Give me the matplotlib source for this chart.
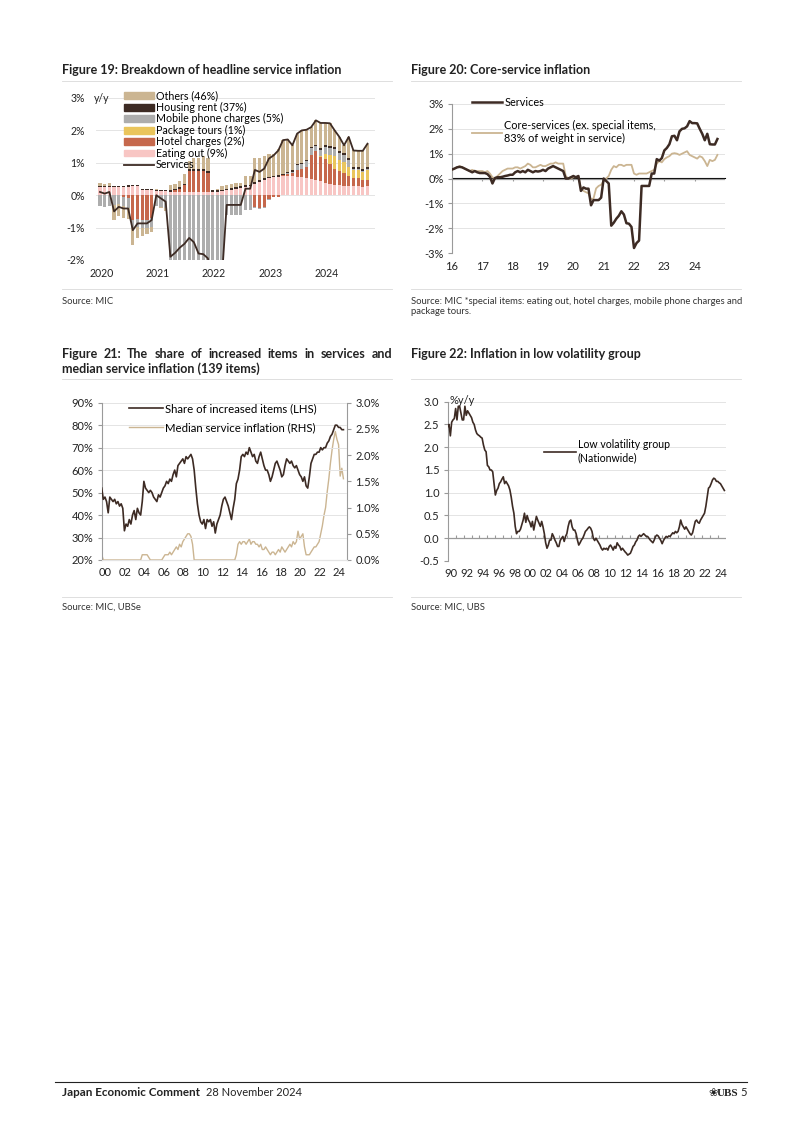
import numpy as np
import matplotlib
matplotlib.use("Agg")
import matplotlib.pyplot as plt
from matplotlib.lines import Line2D
from matplotlib.patches import Patch

plt.rcParams['font.family'] = ['Lato', 'DejaVu Sans']
plt.rcParams['axes.unicode_minus'] = False

W, H = 802, 1134
DARK = '#3D2B24'
TAN = '#CBB592'
PINK = '#F8C6C4'
RED = '#C6684C'
YELLOW = '#EAC55C'
GRAY = '#ADADAD'
GRID = '#E4E4E4'
AXIS = '#9A9A9A'
TEXT = '#222222'

# ---------------- Figure 19: contributions, Jan 2020 - Oct 2024 (pp) ----------------
f19_years = ['2020', '2021', '2022', '2023', '2024']
f19_services = [0.10, 0.05, 0.10, -0.50, -0.36, -0.41, -0.41, -1.08, -0.87, -0.87, -0.87, -0.77,
                0.00, -0.10, -0.20, -1.90, -1.78, -1.62, -1.50, -1.32, -1.45, -1.80, -1.82, -1.95,
                -2.80, -2.60, -2.50, -0.30, -0.30, -0.30, -0.30, 0.20, 0.20, 0.78, 0.72, 0.82,
                1.13, 1.23, 1.38, 1.70, 1.72, 1.54, 1.90, 2.00, 2.02, 2.10, 2.31, 2.23,
                2.23, 2.22, 2.00, 1.80, 1.54, 1.80, 1.38, 1.37, 1.37, 1.59]
f19_eating = [0.24, 0.24, 0.24, 0.24, 0.24, 0.24, 0.26, 0.27, 0.27, 0.15, 0.15, 0.15,
              0.12, 0.12, 0.12, 0.10, 0.10, 0.10, 0.10, 0.10, 0.10, 0.10, 0.10, 0.10,
              0.10, 0.10, 0.12, 0.15, 0.17, 0.20, 0.22, 0.25, 0.28, 0.35, 0.42, 0.48,
              0.52, 0.55, 0.56, 0.58, 0.58, 0.58, 0.57, 0.55, 0.52, 0.50, 0.46, 0.43,
              0.38, 0.35, 0.32, 0.30, 0.28, 0.28, 0.27, 0.27, 0.26, 0.27]
f19_hotel = [0, 0, 0, 0, 0, -0.05, -0.10, -0.75, -0.72, -0.75, -0.75, -0.70,
             0, 0, 0, 0, 0.05, 0.10, 0.20, 0.65, 0.65, 0.65, 0.65, 0.60,
             0, 0, 0, 0, 0, 0, 0, 0, 0, -0.35, -0.40, -0.35,
             -0.12, -0.05, -0.05, 0.03, 0.08, 0.12, 0.20, 0.25, 0.35, 0.75, 0.90, 0.75,
             0.75, 0.60, 0.50, 0.45, 0.40, 0.30, 0.25, 0.25, 0.20, 0.20]
f19_package = [0] * 47 + [0.03,
               0.15, 0.30, 0.40, 0.35, 0.35, 0.30, 0.25, 0.25, 0.25, 0.30]
f19_mobile = [-0.33, -0.35, -0.33, -0.30, -0.28, -0.28, -0.28, -0.25, -0.25, -0.25, -0.25, -0.28,
              -0.33, -0.35, -0.38, -2.20, -2.13, -2.07, -2.15, -2.32, -2.55, -2.90, -2.97, -3.05,
              -2.95, -2.80, -2.75, -0.60, -0.60, -0.62, -0.62, -0.45, -0.45, -0.03, -0.03, -0.03,
              -0.02, 0, 0, 0, 0.02, 0.02, 0.15, 0.15, 0.18, 0.20, 0.15, 0.20,
              0.20, 0.20, 0.20, 0.20, 0.20, 0.20, 0.05, 0.05, 0.05, 0.05]
f19_rent = [0.05] * 48 + [0.06] * 10
f19_others = [0.10, 0.05, 0.08, -0.45, -0.35, -0.38, -0.35, -0.55, -0.35, -0.25, -0.20, -0.15,
              0.02, -0.05, -0.10, 0.15, 0.15, 0.20, 0.30, 0.25, 0.35, 0.35, 0.40, 0.40,
              0.00, 0.05, 0.10, 0.10, 0.12, 0.12, 0.10, 0.30, 0.27, 0.76, 0.68, 0.67,
              0.70, 0.68, 0.82, 1.04, 0.99, 0.77, 0.93, 1.00, 0.92, 0.60, 0.75, 0.77,
              0.69, 0.71, 0.52, 0.44, 0.25, 0.66, 0.50, 0.49, 0.55, 0.71]

# ---------------- Figure 20: monthly from Jan 2016 ----------------
f20_years = ['16', '17', '18', '19', '20', '21', '22', '23', '24']
f20_services_2016_19 = [0.36, 0.40, 0.45, 0.47, 0.45, 0.40, 0.35, 0.30, 0.25, 0.30, 0.25, 0.22,
                        0.22, 0.22, 0.18, 0.07, -0.20, 0.02, 0.05, 0.05, 0.07, 0.10, 0.12, 0.15,
                        0.15, 0.25, 0.30, 0.25, 0.30, 0.25, 0.35, 0.30, 0.25, 0.30, 0.28, 0.30,
                        0.35, 0.30, 0.40, 0.45, 0.50, 0.45, 0.40, 0.35, 0.30, 0.00, 0.00, 0.05]
f20_services = f20_services_2016_19 + f19_services
f20_core = [0.35, 0.40, 0.45, 0.50, 0.45, 0.40, 0.35, 0.30, 0.35, 0.30, 0.30, 0.30,
            0.30, 0.25, 0.30, 0.20, 0.05, 0.00, 0.10, 0.20, 0.30, 0.35, 0.40, 0.40,
            0.40, 0.45, 0.45, 0.40, 0.45, 0.50, 0.60, 0.55, 0.45, 0.45, 0.50, 0.55,
            0.50, 0.50, 0.55, 0.60, 0.60, 0.65, 0.60, 0.60, 0.60, 0.10, 0.00, 0.00,
            0.05, 0.05, 0.10, -0.40, -0.50, -0.55, -0.60, -0.85, -0.80, -0.40, -0.30, -0.25,
            -0.10, 0.00, 0.10, 0.35, 0.50, 0.45, 0.55, 0.55, 0.50, 0.55, 0.55, 0.55,
            0.20, 0.15, 0.20, 0.20, 0.20, 0.20, 0.25, 0.30, 0.35, 0.60, 0.70, 0.65,
            0.78, 0.85, 0.90, 1.00, 1.02, 1.00, 0.95, 1.00, 1.05, 1.10, 0.95, 0.90,
            0.85, 0.80, 0.90, 0.85, 0.70, 0.50, 0.75, 0.70, 0.75, 0.95]

# ---------------- Figure 21: bi-monthly from Jan 2000 ----------------
f21_share = [52, 47, 48, 46, 41, 48, 47, 46, 47, 45, 46, 44,
             45, 43, 33, 36, 35, 38, 36, 40, 42, 38, 43, 41,
             40, 46, 55, 52, 51, 50, 51, 50, 48, 47, 46, 49,
             48, 50, 52, 53, 55, 54, 56, 55, 58, 60, 57, 62,
             63, 64, 65, 63, 66, 65, 66, 67, 65, 60, 52, 45,
             40, 37, 36, 38, 34, 38, 37, 38, 35, 37, 32, 36,
             38, 40, 44, 47, 48, 46, 44, 41, 38, 43, 47, 54,
             56, 60, 66, 67, 66, 68, 67, 70, 68, 66, 67, 64,
             63, 66, 68, 65, 62, 60, 60, 58, 55, 57, 60, 63,
             64, 62, 60, 57, 58, 62, 65, 64, 63, 64, 62, 61,
             62, 60, 58, 57, 55, 57, 53, 52, 57, 63, 65, 67,
             67, 68, 68, 70, 69, 70, 70, 72, 73, 75, 76, 78,
             80, 80, 79, 79, 78, 78]
f21_median = [0.10, 0, 0, 0, 0, 0, 0, 0, 0, 0, 0, 0,
              0, 0, 0, 0, 0, 0, 0, 0, 0, 0, 0, 0,
              0, 0.10, 0.10, 0.10, 0.10, 0.05, 0, 0, 0, 0, 0, 0,
              0, 0, 0.05, 0.10, 0.10, 0.10, 0.15, 0.10, 0.15, 0.20, 0.25, 0.20,
              0.30, 0.25, 0.35, 0.40, 0.45, 0.50, 0.50, 0.45, 0.30, 0, 0, 0,
              0, 0, 0, 0, 0, 0, 0, 0, 0, 0, 0, 0,
              0, 0, 0, 0, 0, 0, 0, 0, 0, 0, 0, 0.10,
              0.30, 0.35, 0.30, 0.35, 0.35, 0.30, 0.35, 0.40, 0.30, 0.35, 0.35, 0.30,
              0.30, 0.25, 0.30, 0.20, 0.20, 0.25, 0.20, 0.15, 0.10, 0.15, 0.15, 0.10,
              0.15, 0.20, 0.15, 0.25, 0.20, 0.15, 0.20, 0.25, 0.30, 0.25, 0.35, 0.30,
              0.35, 0.55, 0.40, 0.45, 0.50, 0.25, 0.10, 0.10, 0.10, 0.15, 0.20, 0.25,
              0.25, 0.30, 0.35, 0.50, 0.65, 0.85, 1.00, 1.30, 1.55, 1.85, 2.10, 2.30,
              2.45, 2.30, 2.20, 1.60, 1.75, 1.55]
f21_labels = ['00', '02', '04', '06', '08', '10', '12', '14', '16', '18', '20', '22', '24']

# ---------------- Figure 22: bi-monthly from Jan 1990 ----------------
f22_lowvol = [2.45, 2.50, 2.25, 2.55, 2.60, 2.63, 2.85, 2.60, 2.90, 2.90, 2.75, 2.60,
              2.60, 2.90, 2.70, 2.80, 2.75, 2.70, 2.65, 2.55, 2.50, 2.38, 2.30, 2.27,
              2.25, 2.22, 2.20, 2.05, 1.94, 1.90, 1.60, 1.57, 1.50, 1.50, 1.46, 1.20,
              0.95, 1.05, 1.10, 1.20, 1.24, 1.30, 1.35, 1.20, 1.25, 1.20, 1.15, 1.06,
              0.90, 0.70, 0.55, 0.26, 0.10, 0.15, 0.15, 0.20, 0.30, 0.40, 0.55, 0.35,
              0.50, 0.40, 0.35, 0.25, 0.37, 0.18, 0.33, 0.48, 0.40, 0.33, 0.26, 0.37,
              0.25, 0.10, -0.10, -0.22, -0.15, -0.04, -0.04, 0.10, 0.04, -0.04, -0.10, -0.18,
              -0.18, -0.05, 0.00, 0.04, -0.07, 0.04, 0.10, 0.26, 0.37, 0.40, 0.25, 0.18,
              0.18, 0.10, -0.04, -0.15, -0.10, -0.04, 0.00, 0.07, 0.15, 0.18, 0.22, 0.25,
              0.22, 0.15, 0.00, -0.05, 0.00, -0.05, -0.10, -0.15, -0.22, -0.26, -0.22, -0.24,
              -0.22, -0.26, -0.18, -0.15, -0.20, -0.26, -0.18, -0.22, -0.10, -0.15, -0.18, -0.26,
              -0.22, -0.26, -0.30, -0.33, -0.37, -0.35, -0.33, -0.26, -0.18, -0.15, -0.08, -0.04,
              0.04, 0.07, 0.04, 0.07, 0.10, 0.07, 0.04, 0.04, 0.00, -0.04, -0.07, -0.10,
              -0.04, 0.04, 0.07, 0.05, 0.00, -0.05, -0.12, -0.05, 0.00, 0.04, 0.02, 0.05,
              0.04, 0.08, 0.12, 0.10, 0.15, 0.12, 0.15, 0.25, 0.40, 0.30, 0.25, 0.20,
              0.25, 0.20, 0.15, 0.10, 0.07, 0.12, 0.25, 0.37, 0.40, 0.35, 0.33, 0.40,
              0.45, 0.50, 0.55, 0.70, 0.90, 1.10, 1.13, 1.20, 1.28, 1.32, 1.30, 1.25,
              1.25, 1.22, 1.20, 1.15, 1.10, 1.05]
f22_labels = ['90', '92', '94', '96', '98', '00', '02', '04', '06', '08', '10', '12',
              '14', '16', '18', '20', '22', '24']

fig = plt.figure(figsize=(W / 100, H / 100), dpi=100)


def box(x0, y0, x1, y1):
    # axes from page pixel corners (top-left origin)
    return fig.add_axes([x0 / W, 1 - y1 / H, (x1 - x0) / W, (y1 - y0) / H])


def ftext(x, y, s, **kw):
    kw.setdefault('color', TEXT)
    return fig.text(x / W, 1 - y / H, s, **kw)


def rule(x0, x1, y, color='#D9D9D9', lw=0.6):
    fig.add_artist(Line2D([x0 / W, x1 / W], [1 - y / H] * 2, color=color, lw=lw))


def zero_ticks(ax, frac, ticks):
    # small year ticks sitting on the zero line
    sec = ax.secondary_xaxis(frac)
    sec.set_xticks(ticks)
    sec.set_xticklabels([''] * len(ticks))
    sec.tick_params(length=2.5, direction='in', color=AXIS)
    sec.spines['bottom'].set_visible(False)


TITLE = dict(fontsize=9, fontweight='bold', va='center')
SRC = dict(fontsize=6.8, va='center', color='#333333')

# ---------------- Figure 19 ----------------
ftext(62, 70, 'Figure 19: Breakdown of headline service inflation', **TITLE)
rule(62, 392, 81)
ax = box(96, 98, 375, 260)
months = np.arange(len(f19_services))
pos = np.zeros(len(months))
neg = np.zeros(len(months))
series = [(f19_eating, PINK), (f19_hotel, RED), (f19_package, YELLOW),
          (f19_mobile, GRAY), (f19_rent, DARK), (f19_others, TAN)]
for vals, col in series:
    v = np.asarray(vals, dtype=float)
    ax.bar(months, v, bottom=np.where(v >= 0, pos, neg), width=0.68, color=col, lw=0, zorder=2)
    pos += np.clip(v, 0, None)
    neg += np.clip(v, None, 0)
ax.plot(months, f19_services, color=DARK, lw=1.3, zorder=3)
ax.set_xlim(-0.85, 58.6)
ax.set_ylim(-2, 3)
ax.set_yticks(range(-2, 4))
ax.set_yticklabels([f'{v}%' for v in range(-2, 4)])
ax.set_xticks([0.3, 12.3, 24.3, 36.3, 48.3])
ax.set_xticklabels(f19_years)
ax.grid(axis='y', color=GRID, lw=0.7, zorder=0)
ax.set_axisbelow(True)
for s in ax.spines.values():
    s.set_visible(False)
ax.tick_params(length=0, labelsize=7.6, colors=TEXT)
ax.tick_params(axis='y', pad=8)
ax.tick_params(axis='x', pad=6)
ftext(94, 98, 'y/y', fontsize=7.6, va='center')
handles = [Patch(color=TAN), Patch(color=DARK), Patch(color=GRAY), Patch(color=YELLOW),
           Patch(color=RED), Patch(color=PINK), Line2D([], [], color=DARK, lw=1.3)]
labels = ['Others (46%)', 'Housing rent (37%)', 'Mobile phone charges (5%)', 'Package tours (1%)',
          'Hotel charges (2%)', 'Eating out (9%)', 'Services']
ax.legend(handles, labels, loc='upper left', bbox_to_anchor=(124 / W, 1 - 90.5 / H),
          bbox_transform=fig.transFigure, frameon=False, fontsize=7.7, borderpad=0,
          borderaxespad=0, handlelength=2.8, handleheight=0.6, handletextpad=0.15,
          labelspacing=0.04)
rule(62, 392, 289)
ftext(62, 301, 'Source: MIC', **SRC)

# ---------------- Figure 20 ----------------
ftext(411, 70, 'Figure 20: Core-service inflation', **TITLE)
rule(411, 741, 81)
ax = box(452, 104, 725, 253)
t20 = 2016 + np.arange(len(f20_core)) / 12
ax.plot(t20, f20_core, color=TAN, lw=1.3, zorder=3)
ax.plot(t20, f20_services, color=DARK, lw=1.8, zorder=4)
ax.set_xlim(2016, 2025)
ax.set_ylim(-3, 3)
ax.set_yticks(range(-3, 4))
ax.set_yticklabels([f'{v}%' for v in range(-3, 4)])
ax.set_xticks(range(2016, 2025))
ax.set_xticklabels(f20_years)
ax.grid(axis='y', color=GRID, lw=0.7, zorder=0)
ax.axhline(0, color=AXIS, lw=0.9, zorder=2)
for k in ['top', 'right', 'bottom']:
    ax.spines[k].set_visible(False)
ax.spines['left'].set_color(AXIS)
ax.spines['left'].set_linewidth(0.8)
ax.tick_params(axis='y', length=3, color=AXIS, labelsize=8, labelcolor=TEXT, pad=3)
ax.tick_params(axis='x', length=0, labelsize=8, labelcolor=TEXT, pad=6)
zero_ticks(ax, 0.5, list(range(2017, 2025)))
ax.legend([Line2D([], [], color=DARK, lw=1.8), Line2D([], [], color=TAN, lw=1.3)],
          ['Services', 'Core-services (ex. special items,\n83% of weight in service)'],
          loc='upper left', bbox_to_anchor=(472 / W, 1 - 97 / H), bbox_transform=fig.transFigure,
          frameon=False, fontsize=7.8, borderpad=0, borderaxespad=0, handlelength=2.8,
          handletextpad=0.2, labelspacing=1.1)
rule(411, 741, 289)
ftext(411, 301, 'Source: MIC *special items: eating out, hotel charges, mobile phone charges and', **SRC)
ftext(411, 312, 'package tours.', **SRC)

# ---------------- Figure 21 ----------------
words = 'Figure 21: The share of increased items in services and'.split()
wt = [fig.text(0, 1 - 354 / H, w, color=TEXT, **TITLE) for w in words]
fig.canvas.draw()
rend = fig.canvas.get_renderer()
widths = [t.get_window_extent(rend).width for t in wt]
gap = (392 - 62 - sum(widths)) / (len(words) - 1)
xx = 62
for t, w in zip(wt, widths):
    t.set_x(xx / W)
    xx += w + gap
ftext(62, 369, 'median service inflation (139 items)', **TITLE)
rule(62, 392, 379)
ax = box(101.7, 402.7, 347, 560)
t21 = 2000 + np.arange(len(f21_share)) / 6
ax2 = ax.twinx()
ax2.plot(t21, f21_median, color=TAN, lw=1.0, zorder=3)
ax.plot(t21, f21_share, color=DARK, lw=1.2, zorder=4)
ax.set_zorder(ax2.get_zorder() + 1)
ax.patch.set_visible(False)
ax.set_xlim(2000, 2025.2)
ax.set_ylim(20, 90)
ax2.set_ylim(0, 3.0)
ax.set_yticks(range(20, 91, 10))
ax.set_yticklabels([f'{v}%' for v in range(20, 91, 10)])
ax2.set_yticks(np.arange(0, 3.01, 0.5))
ax2.set_yticklabels([f'{v:.1f}%' for v in np.arange(0, 3.01, 0.5)])
ax.set_xticks([2000.4 + 2 * k for k in range(len(f21_labels))])
ax.set_xticklabels(f21_labels)
ax.grid(axis='y', color=GRID, lw=0.7, zorder=0)
for a in (ax, ax2):
    a.spines['top'].set_visible(False)
    a.spines['bottom'].set_color(GRID)
    a.spines['left'].set_color(AXIS)
    a.spines['right'].set_color(AXIS)
    a.spines['left'].set_linewidth(0.8)
    a.spines['right'].set_linewidth(0.8)
ax.spines['right'].set_visible(False)
ax2.spines['left'].set_visible(False)
ax.tick_params(axis='y', length=3, color=AXIS, labelsize=8, labelcolor=TEXT, pad=3)
ax2.tick_params(axis='y', length=3, color=AXIS, labelsize=8, labelcolor=TEXT, pad=3)
ax.tick_params(axis='x', length=0, labelsize=8, labelcolor=TEXT, pad=5)
ax.legend([Line2D([], [], color=DARK, lw=1.2), Line2D([], [], color=TAN, lw=1.0)],
          ['Share of increased items (LHS)', 'Median service inflation (RHS)'],
          loc='upper left', bbox_to_anchor=(129 / W, 1 - 403 / H), bbox_transform=fig.transFigure,
          frameon=False, fontsize=8.2, borderpad=0, borderaxespad=0, handlelength=3.0,
          handletextpad=0.2, labelspacing=0.7)
rule(62, 392, 597)
ftext(62, 607, 'Source: MIC, UBSe', **SRC)

# ---------------- Figure 22 ----------------
ftext(411, 354, 'Figure 22: Inflation in low volatility group', **TITLE)
rule(411, 741, 379)
ax = box(447.7, 401.7, 725.7, 561)
t22 = 1990 + np.arange(len(f22_lowvol)) / 6
ax.plot(t22, f22_lowvol, color=DARK, lw=1.2, zorder=3)
ax.set_xlim(1990, 2025)
ax.set_ylim(-0.5, 3.0)
ax.set_yticks(np.arange(-0.5, 3.01, 0.5))
ax.set_yticklabels([f'{v:.1f}' for v in np.arange(-0.5, 3.01, 0.5)])
ax.set_xticks([1990.4 + 2 * k for k in range(len(f22_labels))])
ax.set_xticklabels(f22_labels)
ax.grid(axis='y', color=GRID, lw=0.7, zorder=0)
ax.axhline(0, color=AXIS, lw=0.9, zorder=2)
for k in ['top', 'right', 'bottom']:
    ax.spines[k].set_visible(False)
ax.spines['left'].set_color(AXIS)
ax.spines['left'].set_linewidth(0.8)
ax.tick_params(axis='y', length=3, color=AXIS, labelsize=8, labelcolor=TEXT, pad=3)
ax.tick_params(axis='x', length=0, labelsize=8, labelcolor=TEXT, pad=5)
zero_ticks(ax, 0.5 / 3.5, list(range(1991, 2025)))
ftext(450, 401, '%y/y', fontsize=8, va='center')
ax.legend([Line2D([], [], color=DARK, lw=1.2)], ['Low volatility group\n(Nationwide)'],
          loc='upper left', bbox_to_anchor=(544 / W, 1 - 439 / H), bbox_transform=fig.transFigure,
          frameon=False, fontsize=7.6, borderpad=0, borderaxespad=0, handlelength=3.0,
          handletextpad=0.2)
rule(411, 741, 597)
ftext(411, 607, 'Source: MIC, UBS', **SRC)

# ---------------- footer ----------------
rule(55, 747, 1082, color='#222222', lw=0.8)
ftext(62, 1093, 'Japan Economic Comment', fontsize=8.4, fontweight='bold', va='center')
ftext(206, 1093, '28 November 2024', fontsize=8, va='center')
ftext(738, 1093, 'UBS', fontsize=8, fontweight='bold', va='center', ha='right',
      family=['Liberation Serif', 'DejaVu Serif'])
ftext(718, 1093, '\u2740', fontsize=8, va='center', ha='right', family=['DejaVu Sans'])
ftext(747, 1093, '5', fontsize=8, va='center', ha='right')

fig.savefig('out.png', dpi=100)
